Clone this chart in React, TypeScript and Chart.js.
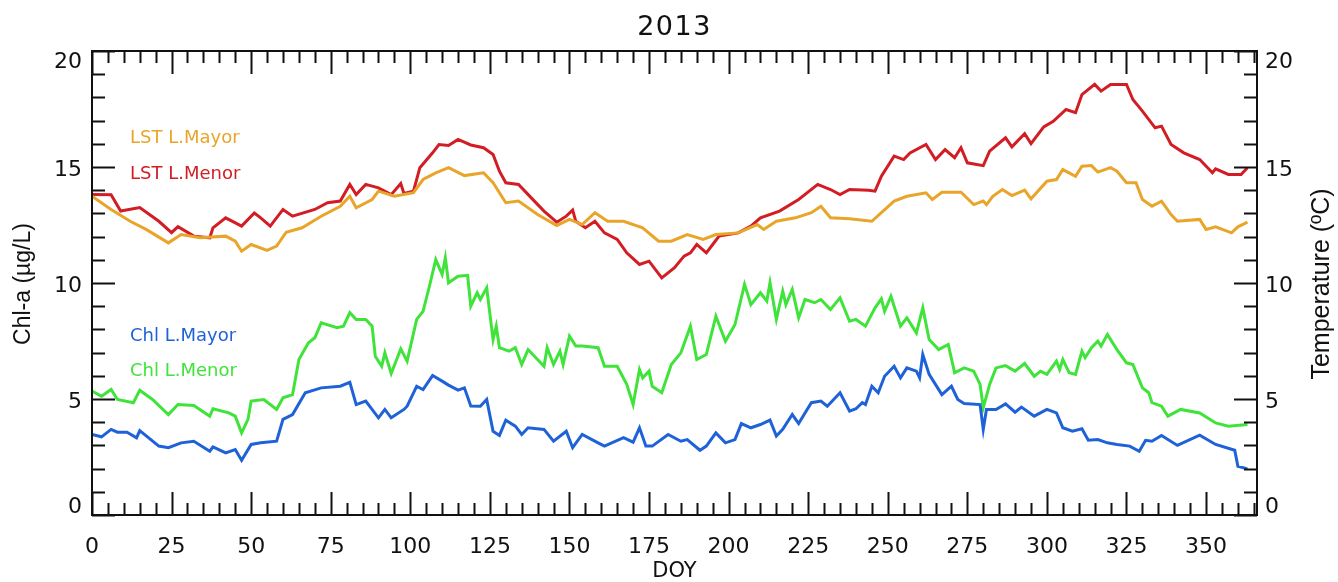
import React, { useEffect, useRef } from "react";
import { Chart, registerables } from "chart.js";

Chart.register(...registerables);

// ---- Data (DOY, values) ----
const lstMayorDays = [0, 6, 12, 17, 24, 28, 34, 42, 45, 47, 50, 55, 58, 61, 66, 72, 78, 81, 83, 88, 90, 95, 101, 104, 108, 112, 117, 123, 126, 130, 134, 140, 146, 150, 154, 158, 162, 167, 173, 178, 182, 187, 192, 196, 203, 209, 211, 215, 221, 226, 229, 232, 238, 245, 252, 256, 262, 264, 267, 273, 277, 280, 281, 283, 286, 289, 293, 295, 300, 303, 305, 309, 311, 314, 316, 320, 322, 325, 328, 330, 333, 336, 339, 341, 348, 350, 353, 358, 360, 363];
const lstMayorVals = [13.74, 13.17, 12.66, 12.31, 11.73, 12.09, 11.95, 12.02, 11.8, 11.37, 11.66, 11.41, 11.59, 12.19, 12.38, 12.88, 13.31, 13.74, 13.24, 13.6, 13.96, 13.74, 13.89, 14.46, 14.75, 14.97, 14.63, 14.75, 14.32, 13.46, 13.53, 12.95, 12.48, 12.74, 12.52, 13.03, 12.66, 12.66, 12.38, 11.8, 11.8, 12.09, 11.88, 12.09, 12.16, 12.52, 12.31, 12.66, 12.81, 13.03, 13.31, 12.81, 12.77, 12.66, 13.53, 13.74, 13.89, 13.6, 13.91, 13.91, 13.38, 13.53, 13.38, 13.74, 14.03, 13.77, 14.0, 13.63, 14.39, 14.46, 14.89, 14.6, 15.03, 15.06, 14.78, 14.97, 14.82, 14.32, 14.32, 13.6, 13.31, 13.53, 12.95, 12.66, 12.74, 12.31, 12.42, 12.16, 12.42, 12.62];

const lstMenorDays = [0, 6, 9, 15, 21, 25, 27, 32, 37, 38, 42, 47, 51, 53, 56, 60, 63, 70, 74, 78, 81, 83, 86, 90, 94, 97, 98, 101, 103, 107, 109, 112, 115, 119, 123, 126, 128, 130, 134, 138, 142, 146, 149, 151, 152, 155, 158, 161, 165, 168, 172, 175, 179, 183, 186, 188, 190, 193, 195, 197, 203, 207, 210, 216, 222, 228, 232, 235, 238, 244, 246, 248, 252, 255, 257, 262, 265, 268, 271, 273, 275, 280, 282, 287, 289, 293, 295, 299, 302, 306, 309, 311, 315, 317, 320, 325, 327, 330, 334, 336, 339, 343, 348, 352, 353, 357, 361, 363];
const lstMenorVals = [13.81, 13.8, 13.1, 13.25, 12.66, 12.17, 12.43, 12.02, 11.95, 12.38, 12.81, 12.45, 13.02, 12.81, 12.45, 13.17, 12.88, 13.17, 13.46, 13.53, 14.25, 13.81, 14.25, 14.1, 13.81, 14.29, 13.86, 13.96, 14.97, 15.61, 15.97, 15.93, 16.19, 15.95, 15.83, 15.54, 14.82, 14.32, 14.25, 13.67, 13.1, 12.62, 12.88, 13.14, 12.66, 12.38, 12.66, 12.16, 11.88, 11.3, 10.8, 10.94, 10.22, 10.66, 11.16, 11.3, 11.66, 11.3, 11.66, 12.02, 12.16, 12.45, 12.81, 13.1, 13.6, 14.25, 14.03, 13.81, 14.03, 14.0, 13.96, 14.6, 15.47, 15.32, 15.61, 15.97, 15.32, 15.75, 15.4, 15.83, 15.18, 15.06, 15.68, 16.26, 15.87, 16.44, 16.01, 16.73, 16.97, 17.48, 17.34, 18.12, 18.56, 18.27, 18.56, 18.56, 17.91, 17.41, 16.69, 16.76, 15.97, 15.61, 15.32, 14.75, 14.92, 14.68, 14.68, 14.97];

const chlMayorDays = [0, 3, 6, 8, 11, 14, 15, 21, 24, 28, 32, 37, 38, 42, 45, 47, 50, 53, 58, 60, 63, 67, 72, 78, 81, 83, 86, 90, 92, 94, 98, 99, 102, 104, 107, 110, 112, 115, 117, 119, 122, 124, 126, 128, 130, 133, 135, 137, 142, 145, 149, 151, 154, 159, 161, 167, 170, 172, 174, 176, 181, 185, 187, 191, 193, 196, 199, 202, 204, 207, 210, 213, 215, 217, 220, 222, 224, 226, 229, 231, 235, 238, 240, 242, 243, 245, 247, 249, 252, 254, 256, 259, 260, 261, 263, 267, 270, 272, 274, 279, 280, 281, 284, 287, 290, 292, 296, 300, 303, 305, 308, 311, 313, 316, 319, 322, 326, 329, 331, 333, 336, 341, 348, 353, 359, 360, 363];
const chlMayorVals = [3.47, 3.37, 3.69, 3.57, 3.57, 3.33, 3.64, 2.97, 2.9, 3.11, 3.18, 2.75, 2.94, 2.68, 2.82, 2.36, 3.04, 3.11, 3.18, 4.12, 4.33, 5.27, 5.48, 5.55, 5.72, 4.76, 4.91, 4.19, 4.55, 4.19, 4.55, 4.69, 5.55, 5.41, 6.01, 5.77, 5.6, 5.38, 5.48, 4.7, 4.69, 4.98, 3.61, 3.43, 4.09, 3.83, 3.47, 3.76, 3.69, 3.18, 3.61, 2.9, 3.47, 3.11, 2.97, 3.33, 3.14, 3.76, 2.97, 2.97, 3.47, 3.18, 3.25, 2.79, 2.97, 3.54, 3.11, 3.25, 3.94, 3.76, 3.9, 4.09, 3.4, 3.69, 4.33, 3.94, 4.4, 4.84, 4.91, 4.69, 5.27, 4.48, 4.58, 4.84, 4.76, 5.55, 5.27, 5.98, 6.41, 5.91, 6.34, 6.2, 5.91, 6.92, 6.06, 5.19, 5.55, 4.98, 4.81, 4.76, 3.69, 4.55, 4.55, 4.79, 4.43, 4.65, 4.26, 4.55, 4.4, 3.76, 3.61, 3.72, 3.22, 3.25, 3.11, 3.04, 2.97, 2.75, 3.22, 3.18, 3.43, 3.0, 3.44, 3.04, 2.79, 2.1, 1.99];

const chlMenorDays = [0, 3, 6, 8, 13, 15, 19, 24, 27, 32, 37, 38, 43, 45, 47, 49, 50, 54, 58, 60, 63, 65, 68, 70, 72, 77, 79, 81, 83, 86, 88, 89, 91, 92, 94, 97, 99, 102, 104, 106, 108, 110, 111, 112, 115, 118, 119, 121, 122, 124, 126, 127, 128, 131, 133, 135, 137, 142, 143, 145, 147, 148, 150, 152, 154, 159, 161, 165, 168, 170, 172, 173, 175, 176, 179, 182, 185, 188, 190, 193, 196, 199, 202, 205, 207, 210, 212, 213, 215, 217, 218, 220, 222, 224, 227, 229, 232, 235, 238, 240, 243, 246, 248, 249, 251, 254, 256, 259, 261, 263, 266, 269, 271, 274, 277, 279, 280, 282, 284, 287, 290, 293, 296, 298, 300, 303, 304, 305, 307, 309, 311, 312, 314, 316, 317, 319, 322, 325, 327, 330, 332, 333, 336, 338, 342, 348, 353, 357, 363];
const chlMenorVals = [5.34, 5.12, 5.41, 4.98, 4.84, 5.38, 4.98, 4.33, 4.76, 4.72, 4.26, 4.58, 4.4, 4.26, 3.54, 4.12, 4.91, 4.98, 4.55, 5.05, 5.19, 6.7, 7.42, 7.64, 8.28, 8.07, 8.14, 8.72, 8.43, 8.43, 8.14, 6.84, 6.41, 6.99, 6.1, 7.16, 6.63, 8.43, 8.78, 9.86, 11.01, 10.37, 11.09, 10.01, 10.29, 10.33, 9.0, 9.58, 9.29, 9.79, 7.56, 8.14, 7.21, 7.06, 7.21, 6.49, 7.13, 6.41, 7.21, 6.49, 7.06, 6.49, 7.71, 7.28, 7.28, 7.21, 6.41, 6.41, 5.63, 4.76, 6.27, 5.91, 6.2, 5.55, 5.27, 6.49, 6.99, 8.14, 6.7, 6.92, 8.57, 7.49, 8.21, 9.94, 9.07, 9.58, 9.22, 10.01, 8.43, 9.65, 9.07, 9.72, 8.5, 9.29, 9.15, 9.29, 8.86, 9.36, 8.35, 8.43, 8.14, 8.93, 9.32, 8.78, 9.43, 8.14, 8.5, 7.85, 8.93, 7.56, 7.13, 7.35, 6.13, 6.34, 6.2, 5.63, 4.62, 5.63, 6.34, 6.44, 6.2, 6.53, 5.98, 6.2, 6.06, 6.63, 6.27, 6.7, 6.13, 6.06, 7.06, 6.78, 7.21, 7.49, 7.28, 7.78, 7.13, 6.56, 6.49, 5.48, 5.27, 4.84, 4.69, 4.26, 4.55, 4.4, 3.97, 3.83, 3.9];

const xTickValues = [0, 25, 50, 75, 100, 125, 150, 175, 200, 225, 250, 275, 300, 325, 350];
const yTickValues = [0, 5, 10, 15, 20];
const seriesLabels = ["LST L.Mayor", "LST L.Menor", "Chl L.Mayor", "Chl L.Menor"];
const seriesColors = ["#E8A52A", "#D21D24", "#1F62D8", "#3FE33A"];
const chartTitle = "2013";
const xTitle = "DOY";
const yLeftTitle = "Chl-a (\u00b5g/L)";
const yRightTitle = "Temperature (\u00baC)";

const toPoints = (days: number[], vals: number[]) => days.map((d, i) => ({ x: d, y: vals[i] }));

const TICK_FONT_CSS = "22px 'DejaVu Sans', sans-serif";

const decorPlugin = {
  id: "decor",
  afterDraw(chart: any) {
    const { ctx, chartArea: a, scales } = chart;
    const x = scales.x;
    const y = scales.y;
    ctx.save();
    ctx.strokeStyle = "#111";
    ctx.lineWidth = 2;
    ctx.lineCap = "butt";
    ctx.strokeRect(a.left, a.top, a.right - a.left, a.bottom - a.top);
    ctx.beginPath();
    for (let v = 0; v <= 365; v += 5) {
      const px = Math.round(x.getPixelForValue(v)) + 0.5;
      const len = v % 25 === 0 ? 23 : 12;
      ctx.moveTo(px, a.bottom);
      ctx.lineTo(px, a.bottom - len);
      ctx.moveTo(px, a.top);
      ctx.lineTo(px, a.top + len);
    }
    for (let v = 0; v <= 20; v += 1) {
      const py = Math.round(y.getPixelForValue(v)) + 0.5;
      const len = v % 5 === 0 ? 23 : 13;
      ctx.moveTo(a.left, py);
      ctx.lineTo(a.left + len, py);
      ctx.moveTo(a.right, py);
      ctx.lineTo(a.right - len, py);
    }
    ctx.stroke();

    ctx.fillStyle = "#111";
    ctx.font = TICK_FONT_CSS;
    ctx.textBaseline = "middle";
    yTickValues.forEach((v) => {
      const py = y.getPixelForValue(v);
      const cy = Math.min(Math.max(py + 3, a.top + 11), a.bottom - 8);
      ctx.textAlign = "right";
      ctx.fillText(String(v), a.left - 10, cy);
      ctx.textAlign = "left";
      ctx.fillText(String(v), a.right + 8, cy);
    });

    const cx = (a.left + a.right) / 2;
    ctx.textAlign = "center";
    ctx.font = "27px 'DejaVu Sans', sans-serif";
    (ctx as any).letterSpacing = "1.5px";
    ctx.fillText(chartTitle, cx, 28);
    (ctx as any).letterSpacing = "0px";
    ctx.font = "21px 'DejaVu Sans', sans-serif";
    ctx.fillText(xTitle, cx, 572);

    ctx.font = "23px 'Liberation Sans', Arial, sans-serif";
    ctx.save();
    ctx.translate(24, 284);
    ctx.rotate(-Math.PI / 2);
    ctx.fillText(yLeftTitle, 0, 0);
    ctx.restore();
    ctx.font = "25px 'Liberation Sans', Arial, sans-serif";
    ctx.save();
    ctx.translate(1322, 284);
    ctx.rotate(-Math.PI / 2);
    ctx.fillText(yRightTitle, 0, 0);
    ctx.restore();

    ctx.textAlign = "left";
    ctx.font = "18px 'DejaVu Sans', sans-serif";
    const lx = a.left + 38;
    const ly = [a.top + 87, a.top + 123, a.top + 285, a.top + 320];
    seriesLabels.forEach((t, i) => {
      ctx.fillStyle = seriesColors[i];
      ctx.fillText(t, lx, ly[i]);
    });
    ctx.restore();
  },
};

export default function App() {
  const ref = useRef<HTMLCanvasElement | null>(null);
  useEffect(() => {
    if (!ref.current) return;
    const mk = (i: number, days: number[], vals: number[], axis: string) => ({
      label: seriesLabels[i],
      data: toPoints(days, vals),
      borderColor: seriesColors[i],
      backgroundColor: seriesColors[i],
      borderWidth: 3,
      pointRadius: 0,
      tension: 0,
      fill: false,
      yAxisID: axis,
    });
    const chart = new Chart(ref.current, {
      type: "line",
      data: {
        datasets: [
          mk(0, lstMayorDays, lstMayorVals, "y2"),
          mk(1, lstMenorDays, lstMenorVals, "y2"),
          mk(2, chlMayorDays, chlMayorVals, "y"),
          mk(3, chlMenorDays, chlMenorVals, "y"),
        ],
      },
      options: {
        responsive: false,
        animation: false,
        layout: { padding: { top: 51, left: 0, right: 0, bottom: 0 } },
        plugins: { legend: { display: false }, tooltip: { enabled: false }, title: { display: false } },
        scales: {
          x: {
            type: "linear",
            min: 0,
            max: 366,
            grid: { display: false, drawTicks: false },
            border: { display: false },
            ticks: {
              color: "#111",
              font: { family: "'DejaVu Sans', sans-serif", size: 22 },
              padding: 19,
              maxRotation: 0,
              autoSkip: false,
            },
            afterBuildTicks: (s: any) => {
              s.ticks = xTickValues.map((v) => ({ value: v }));
            },
            afterFit: (s: any) => {
              s.height = 67;
            },
          },
          y: {
            position: "left",
            min: 0,
            max: 20,
            grid: { display: false, drawTicks: false },
            border: { display: false },
            ticks: { display: false },
            afterFit: (s: any) => {
              s.width = 92;
            },
          },
          y2: {
            position: "right",
            min: 0,
            max: 20,
            grid: { display: false, drawTicks: false },
            border: { display: false },
            ticks: { display: false },
            afterFit: (s: any) => {
              s.width = 81;
            },
          },
        },
      } as any,
      plugins: [decorPlugin],
    });
    return () => chart.destroy();
  }, []);
  return (
    <div style={{ position: "absolute", left: 0, top: 0, width: 1338, height: 582, background: "#fff" }}>
      <canvas ref={ref} width={1338} height={582} />
    </div>
  );
}
